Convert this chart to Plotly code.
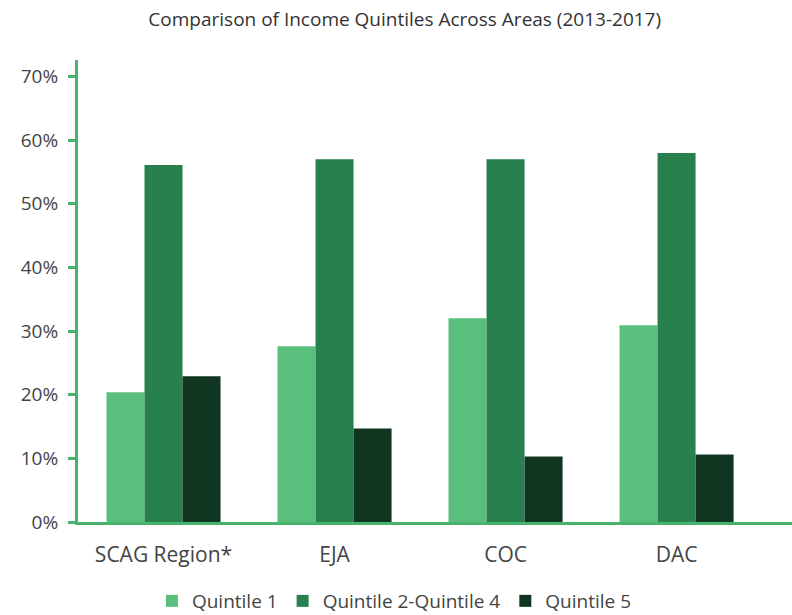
import plotly.graph_objects as go

# Income quintile shares by area (percent of households)
areas = ["SCAG Region*", "EJA", "COC", "DAC"]
quintile_1 = [20.4, 27.6, 32.0, 30.9]
quintile_2_4 = [56.1, 57.0, 57.0, 58.0]
quintile_5 = [22.9, 14.7, 10.3, 10.6]

series_names = ["Quintile 1", "Quintile 2-Quintile 4", "Quintile 5"]
series_colors = ["#5abf7c", "#27804d", "#103622"]
y_ticks = [0, 10, 20, 30, 40, 50, 60, 70]
y_tick_labels = [f"{v}%" for v in y_ticks]

axis_green = "#48b36c"
text_color = "#444444"
font_family = "'Open Sans', sans-serif"

fig = go.Figure()
for name, values, color in zip(series_names, [quintile_1, quintile_2_4, quintile_5], series_colors):
    fig.add_trace(go.Bar(name=name, x=areas, y=values, marker=dict(color=color, line=dict(width=0))))

fig.update_layout(
    width=792,
    height=615,
    barmode="group",
    bargap=0.333,
    bargroupgap=0,
    plot_bgcolor="white",
    paper_bgcolor="white",
    margin=dict(l=78, r=0, t=60, b=93),
    font=dict(family=font_family, color=text_color),
    title=dict(
        text="Comparison of Income Quintiles Across Areas (2013-2017)",
        x=0.511, xanchor="center", xref="container",
        y=1 - 19 / 615, yanchor="middle", yref="container",
        font=dict(size=19, color="#333333", family=font_family),
    ),
    legend=dict(
        orientation="h",
        xref="container", yref="container",
        x=0.498, xanchor="center",
        y=1 - 601 / 615, yanchor="middle",
        font=dict(size=19, color=text_color),
        itemwidth=30,
        traceorder="normal",
    ),
    xaxis=dict(
        range=[-0.5, 3.675],
        showline=True, linecolor=axis_green, linewidth=3,
        showgrid=False, zeroline=False,
        ticks="", ticklabelstandoff=12,
        tickfont=dict(size=21, color=text_color),
    ),
    yaxis=dict(
        range=[0, 72.6],
        tickvals=y_ticks, ticktext=y_tick_labels,
        showline=True, linecolor=axis_green, linewidth=3,
        ticks="outside", ticklen=7, tickwidth=3, tickcolor=axis_green,
        showgrid=False, zeroline=False,
        ticklabelstandoff=6,
        tickfont=dict(size=19, color=text_color),
    ),
)

fig.write_html("out.html")
